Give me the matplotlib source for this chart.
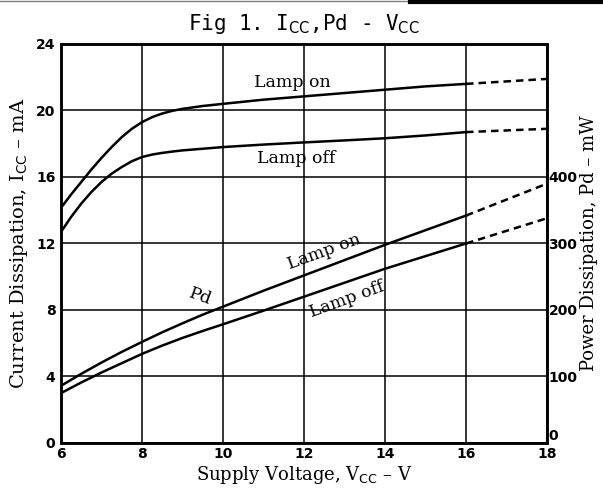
import matplotlib.pyplot as plt
from matplotlib.lines import Line2D

plt.rcParams['mathtext.fontset'] = 'custom'
plt.rcParams['mathtext.rm'] = 'DejaVu Sans'

# supply voltage (V)
v = [6, 6.25, 6.5, 6.75, 7, 7.25, 7.5, 7.75, 8, 8.25, 8.5, 8.75, 9, 9.5, 10,
     11, 12, 13, 14, 15, 16]
v_ext = [16, 17, 18]

# current dissipation (mA)
icc_on = [14.15, 14.95, 15.7, 16.45, 17.15, 17.8, 18.4, 18.9, 19.3, 19.6, 19.82, 19.98, 20.1, 20.27, 20.4,
          20.65, 20.85, 21.05, 21.25, 21.45, 21.6]
icc_off = [12.7, 13.6, 14.4, 15.1, 15.7, 16.2, 16.6, 16.95, 17.2, 17.35, 17.45, 17.53, 17.6, 17.7, 17.8,
           17.95, 18.08, 18.2, 18.33, 18.5, 18.7]
icc_on_ext = [21.6, 21.75, 21.9]
icc_off_ext = [18.7, 18.8, 18.9]

# power dissipation (mW)
v_pd = [6, 6.5, 7, 7.5, 8, 8.5, 9, 9.5, 10, 11, 12, 13, 14, 15, 16]
pd_on = [86, 104, 121, 137, 152, 166.5, 180, 193, 205, 229, 252, 275, 298, 320, 342]
pd_off = [75, 91, 106, 120, 134, 146.5, 158, 168.5, 178.5, 199, 220, 241, 262, 281, 300]
pd_on_ext = [342, 366, 390]
pd_off_ext = [300, 319, 338]

x_ticks = [6, 8, 10, 12, 14, 16, 18]
y_ticks = [0, 4, 8, 12, 16, 20, 24]
pd_ticks = [0, 100, 200, 300, 400]

fig = plt.figure(figsize=(6.03, 4.91), dpi=100)
ax = fig.add_axes([0.1012, 0.0978, 0.806, 0.8126])
ax2 = ax.twinx()

lw = 1.8
dash = (0, (3, 2))
ax.plot(v, icc_on, color='black', lw=lw)
ax.plot(v, icc_off, color='black', lw=lw)
ax.plot(v_ext, icc_on_ext, color='black', lw=lw, ls=dash)
ax.plot(v_ext, icc_off_ext, color='black', lw=lw, ls=dash)

ax2.plot(v_pd, pd_on, color='black', lw=lw)
ax2.plot(v_pd, pd_off, color='black', lw=lw)
ax2.plot(v_ext, pd_on_ext, color='black', lw=lw, ls=dash)
ax2.plot(v_ext, pd_off_ext, color='black', lw=lw, ls=dash)

ax.set_xlim(6, 18)
ax.set_ylim(0, 24)
ax2.set_ylim(0, 600)

ax.set_xticks(x_ticks)
ax.set_yticks(y_ticks)
ax2.set_yticks(pd_ticks)

tick_font = dict(family='DejaVu Sans', weight='bold', size=10)
ax.set_xticklabels([str(t) for t in x_ticks], **tick_font)
ax.set_yticklabels([str(t) for t in y_ticks], **tick_font)
ax2.set_yticklabels([str(t) for t in pd_ticks], **tick_font)
ax.tick_params(length=0, pad=3)
ax.tick_params(axis='y', pad=4)
ax2.tick_params(length=0, pad=1)
ax2.get_yticklabels()[0].set_va('bottom')

ax.grid(True, color='black', lw=1.1)
for s in list(ax.spines.values()) + list(ax2.spines.values()):
    s.set_linewidth(1.8)

serif = ['DejaVu Serif']
ax.set_xlabel('Supply Voltage, V$_{\\mathrm{CC}}$ – V', family=serif, size=13, labelpad=2)
ax.set_ylabel('Current Dissipation, I$_{\\mathrm{CC}}$ – mA', family=serif, size=14, labelpad=4)
ax2.set_ylabel('Power Dissipation, Pd – mW', family=serif, size=13, labelpad=2)

ax.set_title('Fig 1. I$_{\\mathrm{CC}}$,Pd - V$_{\\mathrm{CC}}$', family='DejaVu Sans Mono', size=15, pad=10)

lab = dict(family=serif, size=12.5, ha='center', va='center')
ax.text(11.7, 21.7, 'Lamp on', **lab)
ax.text(11.8, 17.1, 'Lamp off', **lab)
ax.text(9.43, 8.8, 'Pd', rotation=-20, **lab)
ax.text(12.5, 11.5, 'Lamp on', rotation=20, **lab)
ax.text(13.06, 8.6, 'Lamp off', rotation=20, **lab)

# scan edge at the top
fig.add_artist(Line2D([0, 1], [0.997, 0.997], color='gray', lw=1))
fig.add_artist(Line2D([0.68, 1], [0.996, 0.996], color='black', lw=3))

fig.savefig('out.png', dpi=100)
